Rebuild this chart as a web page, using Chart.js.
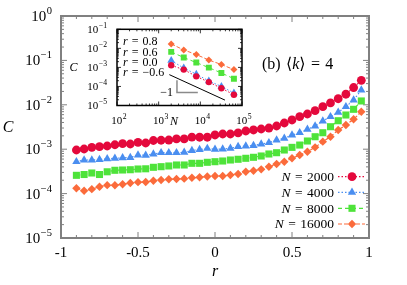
<!DOCTYPE html>
<html><head><meta charset="utf-8">
<script src="https://cdn.jsdelivr.net/npm/chart.js@4.4.1/dist/chart.umd.min.js"></script>
<style>
html,body{margin:0;padding:0;background:#fff;}
#wrap{position:relative;width:407px;height:285px;overflow:hidden;}
#main{position:absolute;left:0;top:0;}
#inset{position:absolute;left:60px;top:20px;}
</style></head><body>
<div id="wrap"><canvas id="main" width="407" height="285"></canvas><canvas id="inset" width="200" height="112"></canvas></div>
<script>
// ---------- DATA ----------
const rValues = [-0.9,-0.85,-0.8,-0.75,-0.7,-0.65,-0.6,-0.55,-0.5,-0.45,-0.4,-0.35,-0.3,-0.25,-0.2,-0.15,-0.1,-0.05,0,0.05,0.1,0.15,0.2,0.25,0.3,0.35,0.4,0.45,0.5,0.55,0.6,0.65,0.7,0.75,0.8,0.85,0.9,0.95];
const C_N2000 = [9.59e-4,1.01e-3,1.10e-3,1.14e-3,1.18e-3,1.26e-3,1.34e-3,1.31e-3,1.43e-3,1.38e-3,1.57e-3,1.59e-3,1.61e-3,1.70e-3,1.70e-3,1.88e-3,1.86e-3,1.86e-3,2.09e-3,2.20e-3,2.20e-3,2.32e-3,2.57e-3,2.71e-3,2.85e-3,3.00e-3,3.33e-3,3.89e-3,4.55e-3,5.40e-3,6.21e-3,7.36e-3,9.06e-3,1.10e-2,1.37e-2,1.73e-2,2.45e-2,3.55e-2];
const C_N4000 = [5.23e-4,5.71e-4,5.71e-4,5.86e-4,6.08e-4,6.24e-4,6.40e-4,6.50e-4,7.40e-4,7.29e-4,7.80e-4,8.34e-4,8.34e-4,8.34e-4,8.51e-4,9.35e-4,9.84e-4,1.04e-3,9.95e-4,1.01e-3,1.05e-3,1.14e-3,1.18e-3,1.21e-3,1.31e-3,1.40e-3,1.61e-3,1.76e-3,2.09e-3,2.35e-3,2.81e-3,3.33e-3,4.32e-3,5.40e-3,6.78e-3,9.06e-3,1.28e-2,2.15e-2];
const C_N8000 = [2.58e-4,2.69e-4,2.91e-4,2.69e-4,3.10e-4,3.35e-4,3.40e-4,3.45e-4,3.58e-4,3.62e-4,3.91e-4,4.04e-4,4.19e-4,4.41e-4,4.41e-4,4.81e-4,4.81e-4,5.07e-4,5.23e-4,5.42e-4,5.71e-4,5.93e-4,6.24e-4,6.57e-4,7.03e-4,7.80e-4,8.34e-4,9.59e-4,1.10e-3,1.24e-3,1.53e-3,1.91e-3,2.35e-3,3.21e-3,4.38e-3,5.89e-3,7.92e-3,1.22e-2];
const C_N16000 = [1.32e-4,1.16e-4,1.26e-4,1.43e-4,1.55e-4,1.54e-4,1.63e-4,1.73e-4,1.81e-4,1.83e-4,1.95e-4,2.02e-4,2.10e-4,2.13e-4,2.17e-4,2.28e-4,2.33e-4,2.43e-4,2.49e-4,2.49e-4,2.62e-4,2.76e-4,3.11e-4,3.28e-4,3.52e-4,4.04e-4,4.65e-4,5.23e-4,6.24e-4,7.40e-4,8.79e-4,1.10e-3,1.48e-3,1.91e-3,2.71e-3,3.51e-3,4.71e-3,7.00e-3];
const mainN = [2000, 4000, 8000, 16000];

const insetN = [2000, 4000, 8000, 16000, 32000, 64000];
const insetC_rm06 = [1.29e-3, 7.65e-4, 3.38e-4, 1.69e-4, 8.04e-5, 3.68e-5];
const insetC_r00 = [2.29e-3, 9.18e-4, 4.42e-4, 1.95e-4, 1.00e-4, 4.53e-5];
const insetC_r06 = [6.53e-3, 3.30e-3, 1.79e-3, 9.75e-4, 5.06e-4, 2.55e-4];
const insetC_r08 = [1.71e-2, 8.22e-3, 4.75e-3, 2.43e-3, 1.42e-3, 7.65e-4];
const insetR = ['0.8', '0.6', '0.0', '\u22120.6'];
const guideN = [1800, 39000];
const guideC = [4.17e-4, 1.92e-5];
const slopeN = [2750, 2750, 8700];
const slopeC = [2.1e-4, 4.8e-5, 4.8e-5];

const xTickValues = [-1, -0.5, 0, 0.5, 1];
const yTickExponents = [-5, -4, -3, -2, -1, 0];
const insetXTickExponents = [2, 3, 4, 5];
const insetYTickExponents = [-5, -4, -3, -2, -1];

// ---------- STYLE ----------
const serif = '"Liberation Serif","DejaVu Serif","Times New Roman",serif';
const colors = ['#e4093c', '#4a8ef0', '#4ee33a', '#fb6b3b'];
const dashes = [[1.5, 2], [1.5, 2], [4, 3], [4, 2]];
const styles = ['circle', 'triangle', 'rect', 'rectRot'];
const mainRadius = [4.4, 4.8, 5.0, 4.2];
const insetRadius = [3.2, 4.5, 4.2, 3.5];
const SP = '\u2004';

function setFont(ctx, size, italic) { ctx.font = (italic ? 'italic ' : '') + size + 'px ' + serif; }
function drawRich(ctx, x, y, segs, size, align) {
  const w = segs.map(s => { setFont(ctx, size, s[1]); return ctx.measureText(s[0]).width; });
  const tot = w.reduce((a, b) => a + b, 0);
  let cx = align === 'right' ? x - tot : align === 'center' ? x - tot / 2 : x;
  ctx.textAlign = 'left'; ctx.textBaseline = 'alphabetic'; ctx.fillStyle = '#000';
  segs.forEach((s, i) => { setFont(ctx, size, s[1]); ctx.fillText(s[0], cx, y); cx += w[i]; });
}
function drawPow(ctx, x, yMid, exp, size, align) {
  const e = exp < 0 ? '\u2212' + (-exp) : String(exp);
  const es = size * 0.7;
  setFont(ctx, size, false); const w1 = ctx.measureText('10').width;
  setFont(ctx, es, false); const w2 = ctx.measureText(e).width;
  const tot = w1 + w2 + 0.5;
  const x0 = align === 'right' ? x - tot : align === 'center' ? x - tot / 2 : x;
  const base = yMid + 0.33 * size;
  ctx.textAlign = 'left'; ctx.textBaseline = 'alphabetic'; ctx.fillStyle = '#000';
  setFont(ctx, size, false); ctx.fillText('10', x0, base);
  setFont(ctx, es, false); ctx.fillText(e, x0 + w1 + 0.5, base - 0.47 * size);
}
function logMinors(e0, e1) { const m = []; for (let e = e0; e < e1; e++) for (let k = 2; k <= 9; k++) m.push(k * Math.pow(10, e)); return m; }
function drawFrame(chart, o) {
  const { ctx, chartArea: a } = chart; const x = chart.scales.x, y = chart.scales.y;
  ctx.save(); ctx.strokeStyle = o.color; ctx.lineWidth = o.tickWidth; ctx.setLineDash([]);
  ctx.beginPath();
  const tx = (v, len) => { const p = x.getPixelForValue(v); ctx.moveTo(p, a.bottom); ctx.lineTo(p, a.bottom - len); ctx.moveTo(p, a.top); ctx.lineTo(p, a.top + len); };
  const ty = (v, len) => { const p = y.getPixelForValue(v); ctx.moveTo(a.left, p); ctx.lineTo(a.left + len, p); ctx.moveTo(a.right, p); ctx.lineTo(a.right - len, p); };
  o.xMajor.forEach(v => tx(v, o.major)); o.xMinor.forEach(v => tx(v, o.minor));
  o.yMajor.forEach(v => ty(v, o.major)); o.yMinor.forEach(v => ty(v, o.minor));
  ctx.stroke();
  ctx.lineWidth = o.frameWidth; ctx.strokeRect(a.left, a.top, a.right - a.left, a.bottom - a.top);
  ctx.restore();
}

// ---------- MAIN CHART ----------
const mainValues = [C_N2000, C_N4000, C_N8000, C_N16000];
const xMinorMain = []; for (let i = -9; i <= 9; i++) if (i % 5 !== 0) xMinorMain.push(i / 10);

const mainPlugin = {
  id: 'mainDecor',
  beforeDatasetsDraw(chart) {
    drawFrame(chart, { color: '#808080', tickWidth: 1, frameWidth: 2, major: 6, minor: 3,
      xMajor: xTickValues, xMinor: xMinorMain,
      yMajor: yTickExponents.map(e => Math.pow(10, e)), yMinor: logMinors(-5, 0) });
  },
  afterDraw(chart) {
    const { ctx, chartArea: a } = chart; const x = chart.scales.x, y = chart.scales.y;
    ctx.save();
    xTickValues.forEach(v => {
      setFont(ctx, 15, false); ctx.textAlign = 'center'; ctx.textBaseline = 'alphabetic'; ctx.fillStyle = '#000';
      ctx.fillText(String(v), x.getPixelForValue(v), a.bottom + 19);
    });
    yTickExponents.forEach(e => drawPow(ctx, a.left - 9, y.getPixelForValue(Math.pow(10, e)), e, 15, 'right'));
    drawRich(ctx, 8, (a.top + a.bottom) / 2 + 5, [['C', true]], 16, 'center');
    drawRich(ctx, (a.left + a.right) / 2, 276, [['r', true]], 16, 'center');
    drawRich(ctx, 262, 68.5, [['(b)' + SP + '\u27E8', false], ['k', true], ['\u27E9' + SP + '=' + SP + '4', false]], 16, 'left');
    const rows = [181, 196.7, 212.6, 228.3];
    chart.data.datasets.forEach((ds, i) => {
      const yy = rows[i], yc = yy - 4.3;
      drawRich(ctx, 334, yy, [['N', true], [SP + '=' + SP + mainN[i], false]], 13.5, 'right');
      ctx.save(); ctx.strokeStyle = ds.borderColor; ctx.lineWidth = 1.2; ctx.setLineDash(ds.borderDash);
      ctx.beginPath(); ctx.moveTo(338, yc); ctx.lineTo(365, yc); ctx.stroke(); ctx.restore();
      ctx.fillStyle = ds.borderColor; ctx.strokeStyle = ds.borderColor;
      Chart.helpers.drawPoint(ctx, { pointStyle: ds.pointStyle, radius: ds.pointRadius, borderWidth: 0, rotation: 0 }, 352, yc);
    });
    ctx.restore();
  }
};

new Chart(document.getElementById('main'), {
  type: 'scatter',
  data: {
    datasets: mainValues.map((vals, i) => ({
      label: 'N = ' + mainN[i],
      data: rValues.map((r, j) => ({ x: r, y: vals[j] })),
      showLine: true, borderColor: colors[i], backgroundColor: colors[i], pointBackgroundColor: colors[i],
      borderWidth: 1.2, borderDash: dashes[i], pointStyle: styles[i], pointRadius: mainRadius[i],
      pointBorderWidth: 0, tension: 0
    }))
  },
  options: {
    responsive: false, animation: false, devicePixelRatio: 1,
    layout: { padding: { left: 0, top: 16, right: 38, bottom: 0 } },
    plugins: { legend: { display: false }, tooltip: { enabled: false } },
    scales: {
      x: { type: 'linear', min: -1, max: 1, ticks: { display: false, stepSize: 0.5 }, grid: { display: false, drawTicks: false }, border: { display: false },
        afterFit: s => { s.height = 47; } },
      y: { type: 'logarithmic', min: 1e-5, max: 1, ticks: { display: false }, grid: { display: false, drawTicks: false }, border: { display: false },
        afterFit: s => { s.width = 61; } }
    }
  },
  plugins: [mainPlugin]
});

// ---------- INSET CHART ----------
// series order: r=-0.6 (red), r=0.0 (blue), r=0.6 (green), r=0.8 (orange)
const insetValues = [insetC_rm06, insetC_r00, insetC_r06, insetC_r08];
const insetPlugin = {
  id: 'insetDecor',
  beforeDatasetsDraw(chart) {
    drawFrame(chart, { color: '#000', tickWidth: 0.8, frameWidth: 1.5, major: 4, minor: 2,
      xMajor: insetXTickExponents.map(e => Math.pow(10, e)), xMinor: logMinors(2, 5),
      yMajor: insetYTickExponents.map(e => Math.pow(10, e)), yMinor: logMinors(-5, -1) });
  },
  afterDraw(chart) {
    const { ctx, chartArea: a } = chart; const x = chart.scales.x, y = chart.scales.y;
    ctx.save();
    insetXTickExponents.forEach(e => drawPow(ctx, x.getPixelForValue(Math.pow(10, e)) + 2, 100.5, e, 11, 'center'));
    insetYTickExponents.forEach(e => drawPow(ctx, a.left - 10, y.getPixelForValue(Math.pow(10, e)), e, 11, 'right'));
    drawRich(ctx, 13.5, (a.top + a.bottom) / 2 + 4, [['C', true]], 12, 'center');
    drawRich(ctx, 114, 104.5, [['N', true]], 12, 'center');
    const rows = [25.3, 35.9, 45.9, 56.3];
    insetR.forEach((r, i) => drawRich(ctx, a.left + 6, rows[i], [['r', true], [SP + '=' + SP + r, false]], 12, 'left'));
    const px = x.getPixelForValue(slopeN[1]), py = y.getPixelForValue(slopeC[1]);
    drawRich(ctx, px - 4, py + 3.5, [['\u22121', false]], 12, 'right');
    ctx.restore();
  }
};
const insetDatasets = [
  { data: slopeN.map((n, j) => ({ x: n, y: slopeC[j] })), showLine: true, borderColor: '#8a8a8a', borderWidth: 1.5, pointRadius: 0 },
  { data: guideN.map((n, j) => ({ x: n, y: guideC[j] })), showLine: true, borderColor: '#000', borderWidth: 1, pointRadius: 0 }
];
insetValues.forEach((vals, ci) => {
  insetDatasets.push({
    data: insetN.map((n, j) => ({ x: n, y: vals[j] })),
    showLine: true, borderColor: colors[ci], backgroundColor: colors[ci], pointBackgroundColor: colors[ci],
    borderWidth: 1, borderDash: dashes[ci], pointStyle: styles[ci], pointRadius: insetRadius[ci], pointBorderWidth: 0, tension: 0
  });
});

new Chart(document.getElementById('inset'), {
  type: 'scatter',
  data: { datasets: insetDatasets },
  options: {
    responsive: false, animation: false, devicePixelRatio: 1,
    layout: { padding: { left: 0, top: 9.3, right: 18, bottom: 0 } },
    plugins: { legend: { display: false }, tooltip: { enabled: false } },
    scales: {
      x: { type: 'logarithmic', min: 100, max: 1e5, ticks: { display: false }, grid: { display: false, drawTicks: false }, border: { display: false },
        afterFit: s => { s.height = 26.5; } },
      y: { type: 'logarithmic', min: 1e-5, max: 1e-1, ticks: { display: false }, grid: { display: false, drawTicks: false }, border: { display: false },
        afterFit: s => { s.width = 57; } }
    }
  },
  plugins: [insetPlugin]
});
</script>
</body></html>
